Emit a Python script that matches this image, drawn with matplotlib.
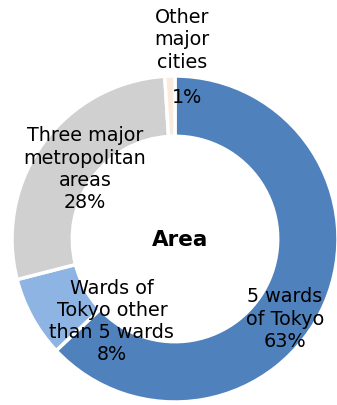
import matplotlib
matplotlib.use("Agg")
import matplotlib.pyplot as plt

categories = ["5 wards\nof Tokyo", "Wards of\nTokyo other\nthan 5 wards",
              "Three major\nmetropolitan\nareas", "Other\nmajor\ncities"]
values = [63, 8, 28, 1]
colors = ["#4F81BD", "#8DB4E2", "#D0D0D0", "#FBEADB"]
center_title = "Area"

plt.rcParams['font.family'] = ['DejaVu Sans']

W, H = 337, 406
fig = plt.figure(figsize=(W / 100, H / 100), dpi=100)
ax = fig.add_axes([0, 0, 1, 1])

cx, cy, R = 175, 240, 163
ax.pie(values, colors=colors, startangle=90, counterclock=False, radius=1,
       wedgeprops=dict(width=0.37, edgecolor="white", linewidth=2.5))
ax.set_xlim((0 - cx) / R, (W - cx) / R)
ax.set_ylim((cy - H) / R, cy / R)
ax.axis("off")

fs = 13.8
kw = dict(ha="center", va="center", fontsize=fs, color="#000000", linespacing=1.22)
# label positions (data units, relative to radius 1)
ax.text(0.675, -0.485, f"{categories[0]}\n{values[0]}%", **kw)
ax.text(-0.387, -0.50, f"{categories[1]}\n{values[1]}%", **kw)
ax.text(-0.552, 0.433, f"{categories[2]}\n{values[2]}%", **kw)
ax.text(0.043, 1.227, categories[3], **kw)
ax.text(0.074, 0.877, f"{values[3]}%", **kw)
ax.text(0.03, 0.0, center_title, ha="center", va="center", fontsize=15.5,
        fontweight="bold", color="#000000")

fig.savefig("out.png", dpi=100)
